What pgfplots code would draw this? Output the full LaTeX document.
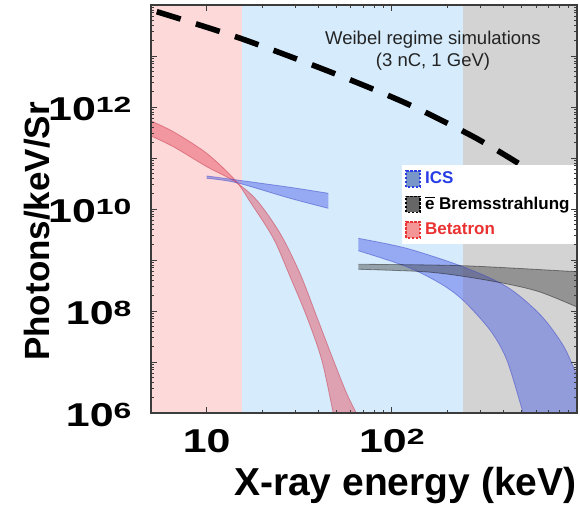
\documentclass[border=0pt]{standalone}
\usepackage{fontspec}
\setmainfont{Liberation Sans}
\newfontfamily\tickfont[FakeStretch=1.3]{Liberation Sans}
\newfontfamily\supfont[FakeStretch=1.45]{Liberation Sans}
\usepackage{pgfplots}
\pgfplotsset{compat=1.18}
\usepgfplotslibrary{fillbetween}

\definecolor{bgpink}{RGB}{253,217,217}
\definecolor{bgblue}{RGB}{214,236,252}
\definecolor{bggray}{RGB}{211,211,211}
\definecolor{betared}{RGB}{230,70,90}
\definecolor{betaedge}{RGB}{200,60,80}
\definecolor{icsblue}{RGB}{70,90,230}
\definecolor{icsedge}{RGB}{60,70,200}
\definecolor{bremgray}{RGB}{70,70,70}
\definecolor{axisgray}{RGB}{60,60,60}
\definecolor{textdark}{RGB}{35,35,35}
\definecolor{icstext}{RGB}{40,60,230}
\definecolor{betatext}{RGB}{235,50,50}
\definecolor{icsmark}{RGB}{120,150,200}
\definecolor{betamark}{RGB}{245,150,150}

% tick label helpers: plain number and power of ten
\newcommand\tk[1]{{\tickfont\bfseries\fontsize{16.5}{16.5}\selectfont #1}}
\newcommand\pw[1]{\tk{10}\raisebox{4.2pt}{\supfont\bfseries\fontsize{11}{11}\selectfont #1}}

\begin{document}
\begin{tikzpicture}
\begin{axis}[
  scale only axis, width=213pt, height=204pt,
  xmode=log, ymode=log,
  xmin=5, xmax=1000, ymin=1e6, ymax=1e14,
  axis on top,
  axis line style={axisgray, line width=0.7pt},
  tick style={axisgray, line width=0.4pt},
  major tick length=3pt, minor tick length=1.5pt,
  tick align=inside,
  xtick={10,100,1000}, xticklabels={\tk{10},\pw{2},},
  ytick={1e6,1e7,1e8,1e9,1e10,1e11,1e12,1e13,1e14},
  yticklabels={\pw{6},,\pw{8},,\pw{10},,\pw{12},,},
  xticklabel style={anchor=base, inner sep=0pt, yshift=-19.85pt},
  yticklabel style={anchor=base east, inner sep=0pt, xshift=-9.6pt, yshift=-6.85pt},
  xlabel={X-ray energy (keV)}, ylabel={Photons/keV/Sr},
  xlabel style={at={(axis description cs:0.597,-0.201)}, anchor=base, inner sep=0pt,
    font=\bfseries\fontsize{19.5}{20}\selectfont},
  ylabel style={at={(axis description cs:-0.2676,0.445)}, anchor=center, inner sep=0pt,
    font=\bfseries\fontsize{17.5}{19}\selectfont},
  legend style={at={(axis description cs:1,0.61)}, anchor=north east, draw=none,
    fill=white, inner xsep=1.5pt, inner ysep=1.5pt, row sep=1pt,
    font=\bfseries\fontsize{8.5}{9}\selectfont, cells={anchor=west}},
  legend image code/.code={\draw[#1] (0pt,-4pt) rectangle (7pt,4pt);},
]
\coordinate (sw) at (rel axis cs:0,0);

% energy regimes
\addplot[fill=bgpink, draw=none, forget plot, on layer=axis background] coordinates {(5,1e6)(15.5,1e6)(15.5,1e14)(5,1e14)} -- cycle;
\addplot[fill=bgblue, draw=none, forget plot, on layer=axis background] coordinates {(15.5,1e6)(243,1e6)(243,1e14)(15.5,1e14)} -- cycle;
\addplot[fill=bggray, draw=none, forget plot, on layer=axis background] coordinates {(243,1e6)(1000,1e6)(1000,1e14)(243,1e14)} -- cycle;

% Betatron band
\addplot[name path=betA, smooth, draw=betaedge, draw opacity=0.5, line width=0.4pt, forget plot] coordinates {
  (4.9,5.5e11) (6.60,3.28e11) (10,1.236e11) (14.22,3.71e10) (17.14,1.39e10) (22.9,2.66e9)
  (28.2,4.71e8) (34.7,7.73e7) (41.8,1.094e7) (48.3,9.8e5) (51.8,3.2e5)};
\addplot[name path=betB, smooth, draw=betaedge, draw opacity=0.5, line width=0.4pt, forget plot] coordinates {
  (4.9,2.79e11) (6.60,1.667e11) (10,6.76e10) (14.22,3.43e10) (18.6,1.5e10) (24.9,3.34e9)
  (31.9,5.48e8) (39.3,7.73e7) (48.3,1.094e7) (57.0,2.43e6) (64.4,9.8e5) (74.8,3.2e5)};
\addplot[fill=betared, fill opacity=0.45, draw=none, forget plot] fill between[of=betA and betB];

% ICS, low-energy branch
\addplot[name path=icsU1, smooth, draw=icsedge, draw opacity=0.5, line width=0.4pt, forget plot] coordinates {
  (10,4.44e10) (14.52,3.71e10) (28.2,2.66e10) (45.4,2.03e10)};
\addplot[name path=icsL1, smooth, draw=icsedge, draw opacity=0.5, line width=0.4pt, forget plot] coordinates {
  (10,4.0e10) (14.52,3.28e10) (28.2,1.62e10) (45.4,1.03e10)};
\addplot[fill=icsblue, fill opacity=0.45, draw=none, forget plot] fill between[of=icsU1 and icsL1];

% ICS, high-energy branch
\addplot[name path=icsU2, smooth, draw=icsedge, draw opacity=0.5, line width=0.4pt, forget plot] coordinates {
  (65.9,2.66e9) (120.2,1.694e9) (241.5,7.4e8) (417.8,2.99e8) (632.4,8.5e7) (843.3,2.1e7)
  (1005,5.2e6) (1100,2.6e6)};
\addplot[name path=icsL2, smooth, draw=icsedge, draw opacity=0.5, line width=0.4pt, forget plot] coordinates {
  (65.9,1.52e9) (120.2,7.4e8) (182,3.49e8) (241.5,1.644e8) (338.8,4.24e7) (417.8,1.094e7)
  (512.9,9.8e5) (565,3.2e5) (1100,3.2e5)};
\addplot[fill=icsblue, fill opacity=0.45, draw=none, forget plot] fill between[of=icsU2 and icsL2];

% Bremsstrahlung band
\addplot[name path=brU, smooth, draw=black, draw opacity=0.4, line width=0.4pt, forget plot] coordinates {
  (65.9,8.24e8) (241.5,7.73e8) (1000,5.9e8) (1100,5.8e8)};
\addplot[name path=brL, smooth, draw=black, draw opacity=0.4, line width=0.4pt, forget plot] coordinates {
  (65.9,6.58e8) (147.9,5.9e8) (241.5,4.8e8) (417.8,3.4e8) (632.4,2.35e8) (1000,1.2e8) (1100,1.05e8)};
\addplot[fill=bremgray, fill opacity=0.45, draw=none, forget plot] fill between[of=brU and brL];

% Weibel regime simulation
\addplot[black, line width=2.8pt, dash pattern=on 12.5pt off 8pt, smooth, forget plot] coordinates {
  (5.37,7.4e13) (15.1,2.24e13) (46.3,4.9e12) (120.2,1.17e12) (275,2.63e11) (482,7.9e10)};

\node[align=center, font=\fontsize{9.25}{11}\selectfont, text=textdark]
  at (axis description cs:0.662,0.889) {Weibel regime simulations\\(3 nC, 1 GeV)};

\addlegendimage{fill=icsmark, draw=icstext, line width=0.8pt, dash pattern=on 1.2pt off 0.8pt}
\addlegendentry{\textcolor{icstext}{ICS}}
\addlegendimage{fill=black!60, draw=black, line width=0.8pt, dash pattern=on 1.2pt off 0.8pt}
\addlegendentry{$\overline{\mbox{e}}$ Bremsstrahlung}
\addlegendimage{fill=betamark, draw=betatext, line width=0.8pt, dash pattern=on 1.2pt off 0.8pt}
\addlegendentry{\textcolor{betatext}{Betatron}}
\end{axis}
\path (sw) ++(-75.5pt,-50pt) rectangle ++(290pt,256.5pt);
\end{tikzpicture}
\end{document}
